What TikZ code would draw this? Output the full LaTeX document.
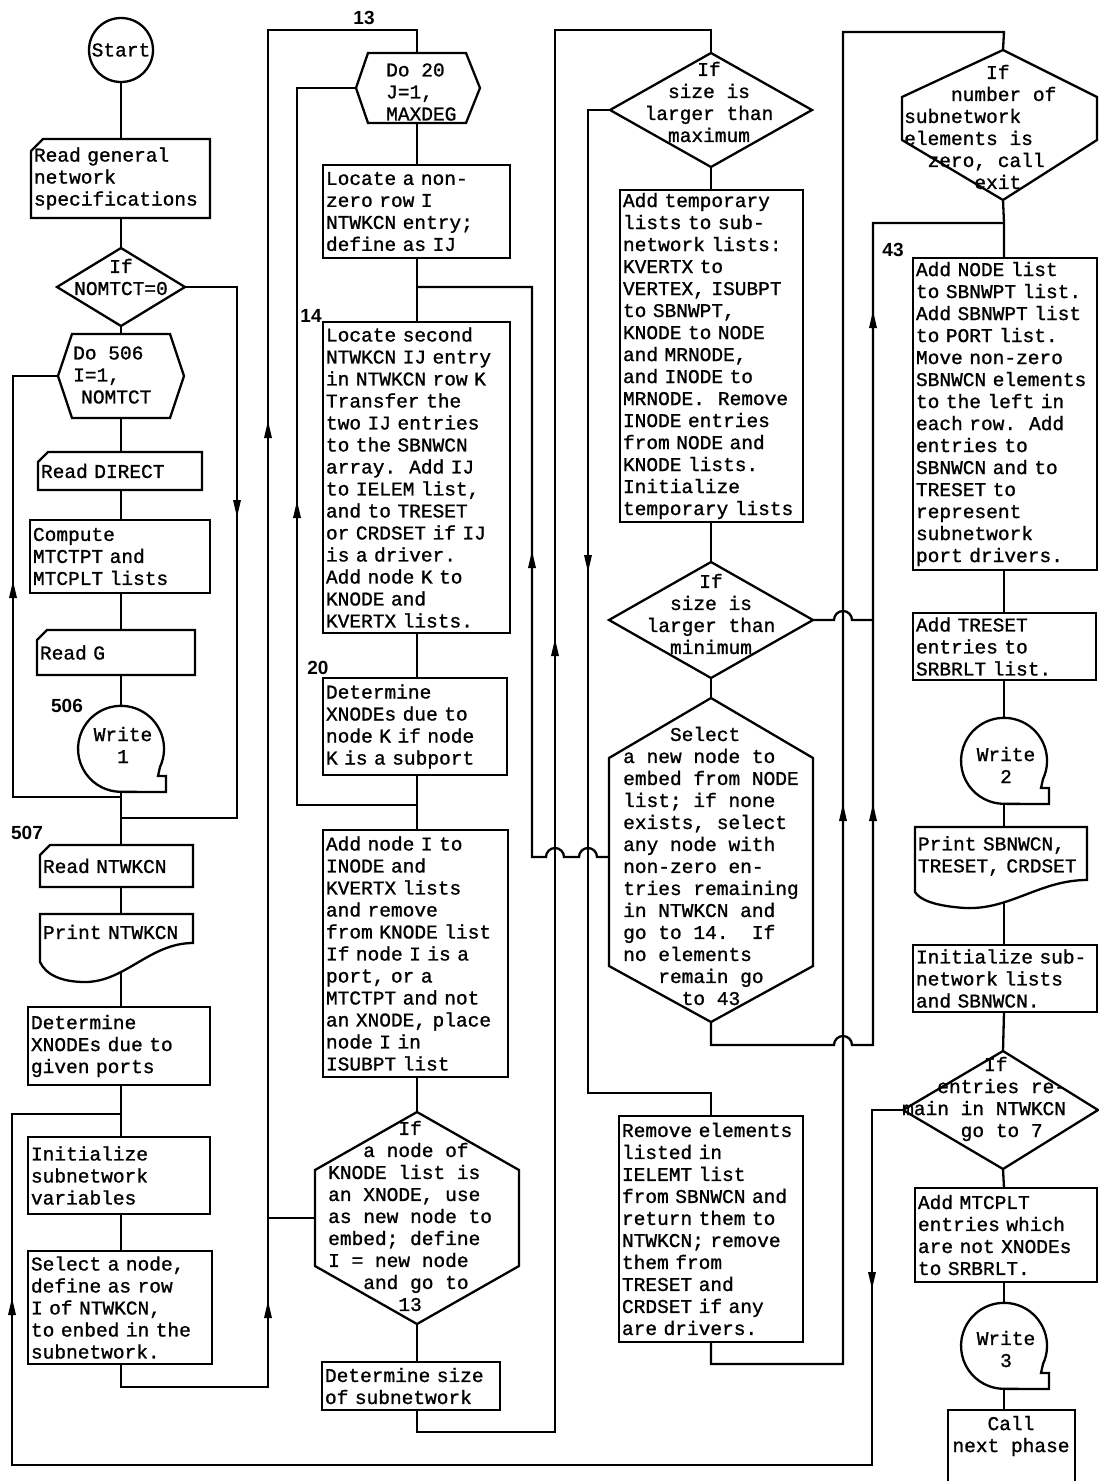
\documentclass[tikz,border=0pt]{standalone}
\usepackage{fontspec}
\newfontfamily\twfam{Liberation Mono}[FakeBold=1.1]
\newfontfamily\lblfam{Liberation Sans}
\newcommand{\tw}{\twfam\fontsize{19.5pt}{22pt}\selectfont\frenchspacing}
\newcommand{\lb}{\lblfam\bfseries\fontsize{19pt}{19pt}\selectfont}
\newcommand{\indc}[1]{\hspace*{#1\fontcharwd\font`M}}
\tikzset{
  ln/.style={line width=2.3pt, line join=miter},
  box/.style={draw, line width=2.3pt, rectangle, anchor=north west, inner xsep=3pt, inner ysep=0pt, outer sep=0pt, align=left, font=\tw},
  card/.style={box, draw=none},
  txt/.style={inner sep=0pt, align=left, font=\tw},
  ctxt/.style={inner sep=0pt, align=center, font=\tw},
  lbl/.style={inner sep=0pt, font=\lb},
  upa/.pic={\fill (0,-9) -- (-4,8) -- (4,8) -- cycle;},
  dna/.pic={\fill (0,9) -- (-4,-8) -- (4,-8) -- cycle;},
}
% diamond: name, cx, cy, half width, half height
\newcommand{\dmd}[5]{%
  \coordinate (#1t) at ({#2},{#3-#5});
  \coordinate (#1b) at ({#2},{#3+#5});
  \coordinate (#1l) at ({#2-#4},{#3});
  \coordinate (#1r) at ({#2+#4},{#3});
  \draw[ln] (#1t) -- (#1r) -- (#1b) -- (#1l) -- cycle;}
% do-loop hexagon: name, xl, xil, xir, xr, yt, yb
\newcommand{\dohex}[7]{%
  \coordinate (#1t) at ({(#3+#4)/2},{#6});
  \coordinate (#1b) at ({(#3+#4)/2},{#7});
  \coordinate (#1l) at ({#2},{(#6+#7)/2});
  \coordinate (#1r) at ({#5},{(#6+#7)/2});
  \draw[ln] (#1l) -- ({#3},{#6}) -- ({#4},{#6}) -- (#1r) -- ({#4},{#7}) -- ({#3},{#7}) -- cycle;}
% pointed hexagon: name, cx, xleft, xright, ytop, y1, y2, ybot
\newcommand{\vhex}[8]{%
  \coordinate (#1t) at ({#2},{#5});
  \coordinate (#1b) at ({#2},{#8});
  \draw[ln] (#1t) -- ({#4},{#6}) -- ({#4},{#7}) -- (#1b) -- ({#3},{#7}) -- ({#3},{#6}) -- cycle;}
% tape symbol: name, cx, cy
\newcommand{\tapesym}[3]{%
  \coordinate (#1t) at ({#2},{#3-43});
  \coordinate (#1b) at ({#2},{#3+43});
  \draw[ln] ({#2+39},{#3+18}) arc[start angle=25, end angle=-270, radius=43]
     -- ({#2+45},{#3+43}) -- ({#2+45},{#3+27}) -- ({#2+37},{#3+27}) -- cycle;}
% card outline around a node
\newcommand{\cardline}[2]{%
  \draw[ln] ([yshift=-#2pt]#1.north west) -- ([xshift=#2pt]#1.north west) -- (#1.north east) -- (#1.south east) -- (#1.south west) -- cycle;}
\begin{document}
\begin{tikzpicture}[x=1pt,y=-1pt]
\fill[white] (0,0) rectangle (1099,1481);
\useasboundingbox (0,0) rectangle (1099,1481);
\coordinate (C1) at (121,0);
\coordinate (C2) at (417,0);
\coordinate (C3) at (711,0);
\coordinate (C4) at (1004,0);

%%%%%%%%%% column 1
\node[draw, circle, line width=2.3pt, minimum size=64pt, inner sep=0pt, font=\tw] (start) at (121,50) {Start};
\node[card, text width=173pt, minimum height=79pt] (rg) at (31,139) {Read general\\network\\specifications};
\cardline{rg}{12}
\dmd{d1}{121}{287}{64}{39}
\node[ctxt] (d1x) at (121,277) {If\\NOMTCT=0};
\dohex{h1}{58}{72}{170}{184}{334}{418}
\node[txt, anchor=west] (h1x) at (73,375) {Do 506\\I=1,\\\hspace*{8pt}NOMTCT};
\node[card, text width=158pt, minimum height=38pt] (rd) at (38,452) {Read DIRECT};
\cardline{rd}{10}
\node[box, text width=174pt, minimum height=73pt] (cmp) at (30,520) {Compute\\MTCTPT and\\MTCPLT lists};
\node[card, text width=152pt, minimum height=45pt] (rG) at (37,630) {Read G};
\cardline{rG}{10}
\node[lbl] (l506) at (67,706) {506};
\tapesym{w1}{121}{749}
\node[ctxt] (w1x) at (123,745) {Write\\1};
\coordinate (j1) at (121,797);
\coordinate (j2) at (121,818);
\node[lbl] (l507) at (27,833) {507};
\node[card, text width=147pt, minimum height=42pt] (rn) at (40,845) {Read NTWKCN};
\cardline{rn}{10}
\node[card, text width=147pt, minimum height=36pt] (pn) at (40,914) {Print NTWKCN};
\draw[ln] (40,962) -- (pn.north west) -- (pn.north east) -- (193,943) .. controls (150,943) and (125,982) .. (85,982) .. controls (62,982) and (46,975) .. cycle;
\coordinate (pnB) at (121,972);
\node[box, text width=176pt, minimum height=78pt] (dx) at (28,1007) {Determine\\XNODEs due to\\given ports};
\coordinate (j3) at (121,1114);
\node[box, text width=176pt, minimum height=77pt] (in) at (28,1137) {Initialize\\subnetwork\\variables};
\node[box, text width=178pt, minimum height=113pt] (sel) at (28,1251) {Select a node,\\define as row\\I of NTWKCN,\\to enbed in the\\subnetwork.};

%%%%%%%%%% column 2
\node[lbl] (l13) at (364,18) {13};
\dohex{h2}{356}{368}{466}{480}{53}{123}
\node[txt, anchor=west] (h2x) at (386,92) {Do 20\\J=1,\\MAXDEG};
\node[box, text width=181pt, minimum height=93pt] (lz) at (323,165) {Locate a non-\\zero row I\\NTWKCN entry;\\define as IJ};
\coordinate (j4) at (417,287);
\node[lbl] (l14) at (311,316) {14};
\node[box, text width=181pt, minimum height=311pt] (ls) at (323,322) {Locate second\\NTWKCN IJ entry\\in NTWKCN row K\\Transfer the\\two IJ entries\\to the SBNWCN\\array.~~Add IJ\\to IELEM list,\\and to TRESET\\or CRDSET if IJ\\is a driver.\\Add node K to\\KNODE and\\KVERTX lists.};
\node[lbl] (l20) at (318,668) {20};
\node[box, text width=178pt, minimum height=97pt] (dk) at (323,678) {Determine\\XNODEs due to\\node K if node\\K is a subport};
\coordinate (j5) at (417,805);
\node[box, text width=179pt, minimum height=247pt] (an) at (323,830) {Add node I to\\INODE and\\KVERTX lists\\and remove\\from KNODE list\\If node I is a\\port, or a\\MTCTPT and not\\an XNODE, place\\node I in\\ISUBPT list};
\vhex{h5}{417}{315}{519}{1112}{1170}{1266}{1324}
\node[txt, anchor=west] (h5x) at (328,1216) {\indc{6}If\\\indc{3}a node of\\KNODE list is\\an XNODE, use\\as new node to\\embed; define\\I = new node\\\indc{3}and go to\\\indc{6}13};
\coordinate (h5L) at (315,1218);
\node[box, text width=172pt, minimum height=48pt] (ds) at (322,1362) {Determine size\\of subnetwork};

%%%%%%%%%% column 3
\dmd{d3}{711}{110}{101}{57}
\node[ctxt] (d3x) at (709,102) {If\\size is\\larger than\\maximum};
\node[box, text width=177pt, minimum height=332pt] (at) at (620,190) {Add temporary\\lists to sub-\\network lists:\\KVERTX to\\VERTEX, ISUBPT\\to SBNWPT,\\KNODE to NODE\\and MRNODE,\\and INODE to\\MRNODE.~~Remove\\INODE entries\\from NODE and\\KNODE lists.\\Initialize\\temporary lists};
\dmd{d5}{711}{620}{102}{58}
\node[ctxt] (d5x) at (711,614) {If\\size is\\larger than\\minimum};
\vhex{h6}{711}{609}{813}{698}{758}{966}{1022}
\node[txt, anchor=west] (h6x) at (623,866) {\indc{4}Select\\a new node to\\embed from NODE\\list; if none\\exists, select\\any node with\\non-zero en-\\tries remaining\\in NTWKCN and\\go to 14.~~If\\no elements\\\indc{3}remain go\\\indc{5}to 43};
\coordinate (h6L) at (609,857);
\node[box, text width=178pt, minimum height=226pt] (rm) at (619,1116) {Remove elements\\listed in\\IELEMT list\\from SBNWCN and\\return them to\\NTWKCN; remove\\them from\\TRESET and\\CRDSET if any\\are drivers.};

%%%%%%%%%% column 4
\vhex{h4}{1003}{902}{1097}{50}{97}{140}{200}
\node[txt, anchor=west] (h4x) at (904,127) {\indc{7}If\\\indc{4}number of\\subnetwork\\elements is\\\indc{2}zero, call\\\indc{6}exit};
\coordinate (j6) at (1004,223);
\node[lbl] (l43) at (893,250) {43};
\node[box, text width=178pt, minimum height=312pt] (b43) at (913,258) {Add NODE list\\to SBNWPT list.\\Add SBNWPT list\\to PORT list.\\Move non-zero\\SBNWCN elements\\to the left in\\each row.~~Add\\entries to\\SBNWCN and to\\TRESET to\\represent\\subnetwork\\port drivers.};
\node[box, text width=177pt, minimum height=67pt] (atr) at (913,613) {Add TRESET\\entries to\\SRBRLT list.};
\tapesym{w2}{1004}{761}
\node[ctxt] (w2x) at (1006,765) {Write\\2};
\node[card, text width=166pt, minimum height=58pt] (ps) at (915,827) {Print SBNWCN,\\TRESET, CRDSET};
\draw[ln] (915,892) -- (ps.north west) -- (ps.north east) -- (1087,880) .. controls (1040,880) and (1010,910) .. (965,908) .. controls (935,906) and (920,900) .. cycle;
\coordinate (psB) at (1004,903);
\node[box, text width=178pt, minimum height=67pt] (is) at (913,945) {Initialize sub-\\network lists\\and SBNWCN.};
\coordinate (d4t) at (1003,1051);
\coordinate (d4b) at (1003,1169);
\coordinate (d4l) at (903,1110);
\coordinate (d4r) at (1098,1110);
\draw[ln] (d4t) -- (d4r) -- (d4b) -- (d4l) -- cycle;
\node[txt, anchor=west] (d4x) at (902,1099) {\indc{7}If\\\indc{3}entries re-\\main in NTWKCN\\\indc{5}go to 7};
\node[box, text width=176pt, minimum height=94pt] (am) at (915,1188) {Add MTCPLT\\entries which\\are not XNODEs\\to SRBRLT.};
\tapesym{w3}{1004}{1346}
\node[ctxt] (w3x) at (1006,1349) {Write\\3};
\draw[ln] (948,1495) -- (948,1410) -- (1075,1410) -- (1075,1495);
\node[ctxt] (call) at (1011,1436) {Call\\next phase};
\coordinate (callT) at (1004,1410);

%%%%%%%%%% connectors column 1
\draw[ln] (C1 |- start.south) -- (C1 |- rg.north);
\draw[ln] (C1 |- rg.south) -- (d1t);
\draw[ln] (d1b) -- (h1t);
\draw[ln] (h1b) -- (C1 |- rd.north);
\draw[ln] (C1 |- rd.south) -- (C1 |- cmp.north);
\draw[ln] (C1 |- cmp.south) -- (C1 |- rG.north);
\draw[ln] (C1 |- rG.south) -- (w1t);
\draw[ln] (w1b) -- (j1) -- (j2) -- (C1 |- rn.north);
\coordinate (L1) at (13,797);
\draw[ln] (j1) -- (L1) -- (L1 |- h1l) -- (h1l);
\coordinate (R1) at (237,287);
\draw[ln] (d1r) -- (R1) -- (R1 |- j2) -- (j2);
\draw[ln] (C1 |- rn.south) -- (C1 |- pn.north);
\draw[ln] (pnB) -- (C1 |- dx.north);
\draw[ln] (C1 |- dx.south) -- (j3) -- (C1 |- in.north);
\draw[ln] (C1 |- in.south) -- (C1 |- sel.north);
\coordinate (k1) at (121,1387);
\coordinate (k2) at (268,1387);
\coordinate (k3) at (268,30);
\draw[ln] (C1 |- sel.south) -- (k1) -- (k2) -- (k3) -- (C2 |- k3) -- (h2t);
\coordinate (B1) at (12,1465);
\coordinate (B2) at (872,1465);
\coordinate (B3) at (872,1110);
\draw[ln] (d4l) -- (B3) -- (B2) -- (B1) -- (B1 |- j3) -- (j3);

%%%%%%%%%% connectors column 2
\draw[ln] (h2b) -- (C2 |- lz.north);
\draw[ln] (C2 |- lz.south) -- (j4) -- (C2 |- ls.north);
\draw[ln] (C2 |- ls.south) -- (C2 |- dk.north);
\draw[ln] (C2 |- dk.south) -- (j5) -- (C2 |- an.north);
\coordinate (L2) at (297,805);
\draw[ln] (j5) -- (L2) -- (L2 |- h2l) -- (h2l);
\draw[ln] (C2 |- an.south) -- (h5t);
\draw[ln] (h5b) -- (C2 |- ds.north);
\draw[ln] (h5L) -- (k2 |- h5L);
\coordinate (k5) at (417,1432);
\coordinate (k6) at (555,1432);
\coordinate (k7) at (555,30);
\draw[ln] (C2 |- ds.south) -- (k5) -- (k6) -- (k7) -- (C3 |- k7) -- (d3t);

%%%%%%%%%% connectors column 3
\coordinate (m1) at (588,110);
\coordinate (m2) at (588,1093);
\draw[ln] (d3l) -- (m1) -- (m2) -- (C3 |- m2) -- (C3 |- rm.north);
\draw[ln] (d3b) -- (C3 |- at.north);
\draw[ln] (C3 |- at.south) -- (d5t);
\draw[ln] (d5b) -- (h6t);
\coordinate (n1) at (873,620);
\coordinate (n2) at (873,223);
\draw[ln] (d5r) -- (834,620) arc[start angle=180, end angle=360, radius=9] -- (n1) -- (n2) -- (j6);
\coordinate (p1) at (532,857);
\draw[ln] (h6L) -- (597,857) arc[start angle=0, end angle=-180, radius=9] -- (564,857) arc[start angle=0, end angle=-180, radius=9] -- (p1) -- (p1 |- j4) -- (j4);
\coordinate (q1) at (711,1045);
\draw[ln] (h6b) -- (q1) -- (834,1045) arc[start angle=180, end angle=360, radius=9] -- (n1 |- q1) -- (n1);
\coordinate (r1) at (711,1364);
\coordinate (r2) at (843,1364);
\coordinate (r3) at (843,32);
\draw[ln] (C3 |- rm.south) -- (r1) -- (r2) -- (r3) -- (C4 |- r3) -- (h4t);

%%%%%%%%%% connectors column 4
\draw[ln] (h4b) -- (j6) -- (C4 |- b43.north);
\draw[ln] (C4 |- b43.south) -- (C4 |- atr.north);
\draw[ln] (C4 |- atr.south) -- (w2t);
\draw[ln] (w2b) -- (C4 |- ps.north);
\draw[ln] (psB) -- (C4 |- is.north);
\draw[ln] (C4 |- is.south) -- (d4t);
\draw[ln] (d4b) -- (C4 |- am.north);
\draw[ln] (C4 |- am.south) -- (w3t);
\draw[ln] (w3b) -- (callT);

%%%%%%%%%% arrowheads
\pic at (237,508) {dna};
\pic at (13,590) {upa};
\pic at (268,430) {upa};
\pic at (268,1310) {upa};
\pic at (297,510) {upa};
\pic at (532,560) {upa};
\pic at (555,648) {upa};
\pic at (588,563) {dna};
\pic at (843,813) {upa};
\pic at (873,320) {upa};
\pic at (873,813) {upa};
\pic at (872,1280) {dna};
\pic at (12,1307) {upa};
\end{tikzpicture}
\end{document}
